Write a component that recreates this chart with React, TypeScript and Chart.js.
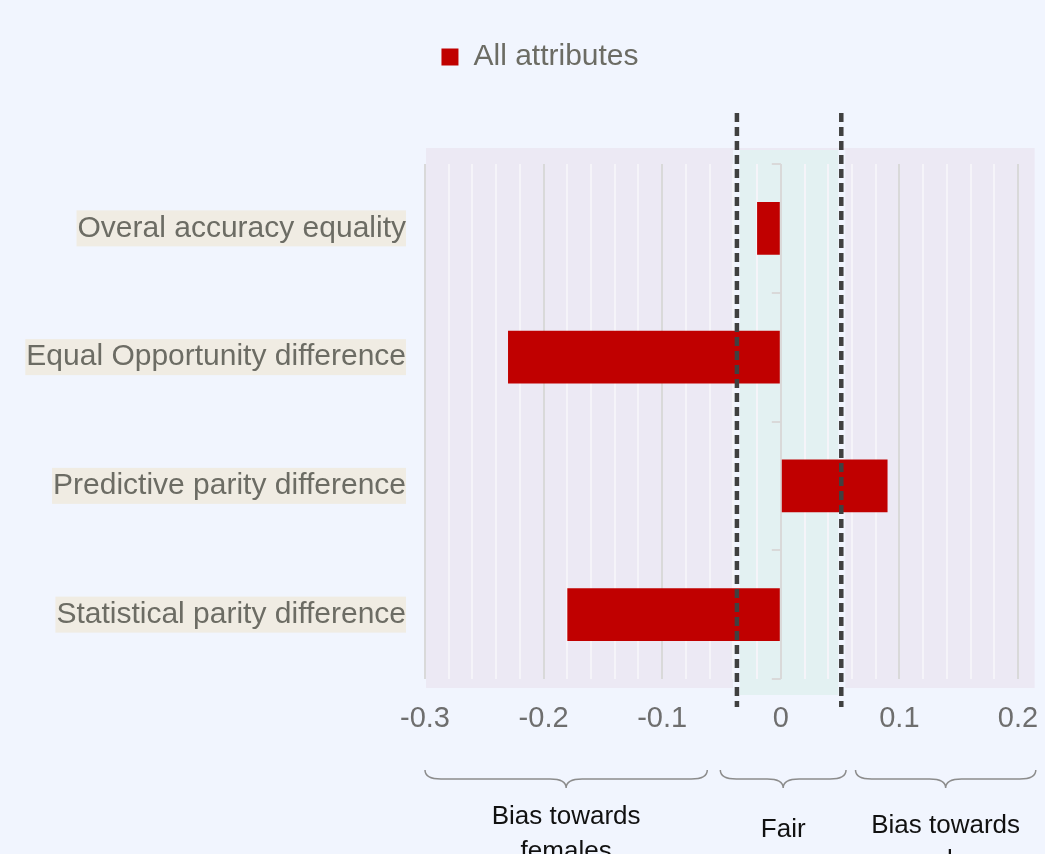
import React, { useEffect, useRef } from 'react';
import { Chart, registerables } from 'chart.js';

Chart.register(...registerables);

// ---- data ----
const categories = [
  'Overal accuracy equality',
  'Equal Opportunity difference',
  'Predictive parity difference',
  'Statistical parity difference',
];
const allAttributes = [-0.02, -0.23, 0.09, -0.18];
const seriesName = 'All attributes';
const xMin = -0.3;
const xMax = 0.2;
const minorStep = 0.02;
const fairBounds = [-0.037, 0.051];
const plotBgMax = 0.214;
const regionRanges = [
  [-0.3, -0.062],
  [-0.051, 0.055],
  [0.063, 0.215],
];
const regionLabels = [['Bias towards', 'females'], ['Fair'], ['Bias towards', 'males']];

// ---- style ----
const FONT = "'Liberation Sans', Arial, sans-serif";
const PAGE_BG = '#F1F5FE';
const PLOT_BG = '#ECE9F4';
const FAIR_BG = '#E3F1F2';
const LABEL_GRAY = '#6C6C64';
const BAR_RED = '#C00000';
const regionTextY = [817, 830, 826];

const isMajor = (v: number) => Math.abs(v * 10 - Math.round(v * 10)) < 1e-6;
const fmt = (v: number) => {
  const r = Math.round(v * 10) / 10;
  return r === 0 ? '0' : String(r);
};

const decor = {
  id: 'decor',
  afterLayout(chart: any) {
    const lg = chart.legend;
    if (lg) {
      lg.left += 26;
      lg.right += 26;
      lg.top -= 82;
      lg.bottom -= 82;
    }
  },
  beforeDraw(chart: any) {
    const { ctx, chartArea: a, scales } = chart;
    const x = scales.x;
    ctx.save();
    ctx.fillStyle = PAGE_BG;
    ctx.fillRect(0, 0, chart.width, chart.height);
    const xl = x.getPixelForValue(xMin);
    const xr = x.getPixelForValue(plotBgMax);
    ctx.fillStyle = PLOT_BG;
    ctx.fillRect(xl + 1, a.top - 16, xr - xl - 1, a.bottom - a.top + 25);
    const f0 = x.getPixelForValue(fairBounds[0]);
    const f1 = x.getPixelForValue(fairBounds[1]);
    ctx.fillStyle = PAGE_BG;
    ctx.fillRect(f0 - 4, a.top - 14, f1 - f0 + 8, a.bottom - a.top + 30);
    ctx.fillStyle = FAIR_BG;
    ctx.fillRect(f0 + 3, a.top - 14, f1 - f0 - 6, a.bottom - a.top + 30);
    ctx.restore();
  },
  beforeDatasetsDraw(chart: any) {
    const { ctx, scales } = chart;
    const x = scales.x;
    const y = scales.y;
    const x0 = x.getPixelForValue(0);
    ctx.save();
    ctx.strokeStyle = '#D9D9D9';
    ctx.lineWidth = 2;
    for (let i = 0; i <= categories.length; i++) {
      const py = Math.round(y.getPixelForValue(i - 0.5));
      ctx.beginPath();
      ctx.moveTo(x0 - 9, py);
      ctx.lineTo(x0, py);
      ctx.stroke();
    }
    ctx.restore();
  },
  afterDatasetsDraw(chart: any) {
    const { ctx, chartArea: a, scales } = chart;
    const x = scales.x;
    ctx.save();
    ctx.strokeStyle = '#404040';
    ctx.lineWidth = 4.5;
    ctx.setLineDash([9, 5]);
    fairBounds.forEach((v) => {
      const px = x.getPixelForValue(v);
      ctx.beginPath();
      ctx.moveTo(px, a.top - 51);
      ctx.lineTo(px, a.bottom + 28);
      ctx.stroke();
    });
    ctx.restore();
  },
  afterDraw(chart: any) {
    const { ctx, scales } = chart;
    const x = scales.x;
    ctx.save();
    ctx.strokeStyle = '#8C8C8C';
    ctx.lineWidth = 1.5;
    const y0 = 770;
    const h = 18;
    regionRanges.forEach(([v1, v2], i) => {
      const x1 = x.getPixelForValue(v1);
      const x2 = x.getPixelForValue(v2);
      const xc = (x1 + x2) / 2;
      const ym = y0 + h / 2;
      const r = 16;
      ctx.beginPath();
      ctx.moveTo(x1, y0);
      ctx.quadraticCurveTo(x1, ym, x1 + r, ym);
      ctx.lineTo(xc - r, ym);
      ctx.quadraticCurveTo(xc, ym, xc, y0 + h);
      ctx.quadraticCurveTo(xc, ym, xc + r, ym);
      ctx.lineTo(x2 - r, ym);
      ctx.quadraticCurveTo(x2, ym, x2, y0);
      ctx.stroke();

      ctx.fillStyle = '#111111';
      ctx.font = `26px ${FONT}`;
      ctx.textAlign = 'center';
      ctx.textBaseline = 'middle';
      regionLabels[i].forEach((line, j) => {
        ctx.fillText(line, xc, regionTextY[i] + j * 35);
      });
    });
    ctx.restore();
  },
};

export default function App() {
  const ref = useRef<HTMLCanvasElement>(null);
  useEffect(() => {
    document.body.style.margin = '0';
    const chart = new Chart(ref.current as HTMLCanvasElement, {
      type: 'bar',
      data: {
        labels: categories,
        datasets: [
          {
            label: seriesName,
            data: allAttributes,
            backgroundColor: BAR_RED,
            borderWidth: 0,
            barPercentage: 0.41,
            categoryPercentage: 1,
          },
        ],
      },
      options: {
        indexAxis: 'y',
        responsive: false,
        animation: false,
        devicePixelRatio: 1,
        layout: { padding: { left: 10, right: 27, top: 114, bottom: 115 } },
        plugins: {
          tooltip: { enabled: false },
          legend: {
            position: 'top',
            align: 'center',
            labels: {
              boxWidth: 17,
              boxHeight: 17,
              padding: 10,
              color: LABEL_GRAY,
              font: { size: 30, family: FONT },
            },
          },
        },
        scales: {
          x: {
            type: 'linear',
            min: xMin,
            max: xMax,
            border: { display: false },
            grid: {
              drawTicks: false,
              tickLength: 0,
              lineWidth: 2,
              color: (c: any) => (isMajor(c.tick.value) ? '#D9D9D9' : '#F5F4F9'),
            },
            ticks: {
              stepSize: minorStep,
              autoSkip: false,
              maxRotation: 0,
              padding: 23,
              color: '#6E6E6E',
              font: { size: 29, family: FONT },
              callback: (v: any) => (isMajor(Number(v)) ? fmt(Number(v)) : ''),
            },
            afterFit: (s: any) => {
              s.height = 60;
              s.paddingLeft = 0;
              s.paddingRight = 0;
            },
          },
          y: {
            type: 'category',
            border: { display: false },
            grid: { display: false, drawTicks: false, tickLength: 0 },
            ticks: {
              padding: 19,
              color: LABEL_GRAY,
              font: { size: 30, family: FONT },
              showLabelBackdrop: true,
              backdropColor: '#F0ECE3',
              backdropPadding: { top: 0, bottom: 0, left: 1, right: 0 },
            },
            afterFit: (s: any) => {
              s.width = 415;
            },
          },
        },
      },
      plugins: [decor],
    } as any);
    return () => chart.destroy();
  }, []);
  return (
    <div style={{ position: 'absolute', left: 0, top: 0, width: 1045, height: 854 }}>
      <canvas ref={ref} width={1045} height={854} style={{ display: 'block', width: 1045, height: 854 }} />
    </div>
  );
}
